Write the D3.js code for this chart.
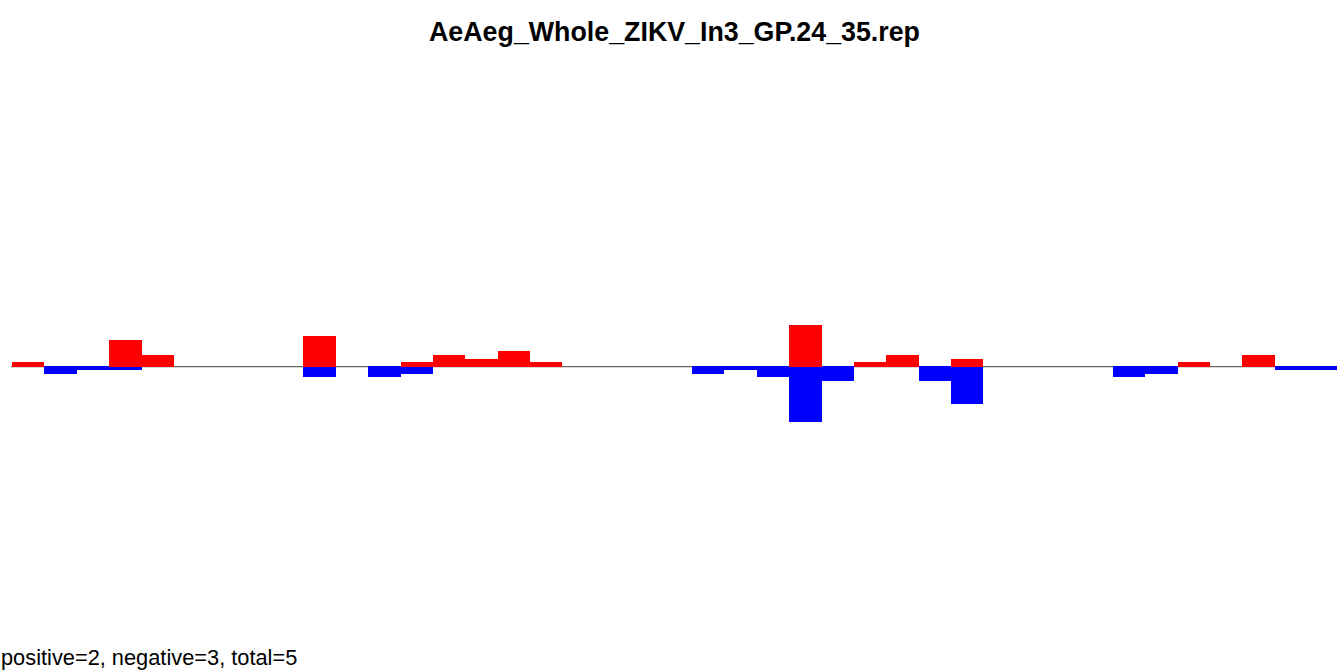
<!DOCTYPE html>
<html>
<head>
<meta charset="utf-8">
<script src="https://cdn.jsdelivr.net/npm/d3@7"></script>
<style>
html,body{margin:0;padding:0;background:#fff;}
svg{display:block;}
</style>
</head>
<body>
<svg id="chart" width="1337" height="671"></svg>
<script>
const title = "AeAeg_Whole_ZIKV_In3_GP.24_35.rep";
const footer = "positive=2, negative=3, total=5";
const slots = d3.range(41).map(String);
// positive (red) values per slot
const posValues = [1,0,0,7,3,0,0,0,0,8,0,0,1,3,2,4,1,0,0,0,0,0,0,0,11,0,1,3,0,2,0,0,0,0,0,0,1,0,3,0,0];
// negative (blue) values per slot
const negValues = [0,-2,-1,-1,0,0,0,0,0,-3,0,-3,-2,0,0,0,0,0,0,0,0,-2,-1,-3,-15,-4,0,0,-4,-10,0,0,0,0,-3,-2,0,0,0,-1,-1];

const W = 1337, H = 671;
const svg = d3.select("#chart");

const x = d3.scaleBand().domain(slots).range([12, 1339.6]).padding(0);
const y = d3.scaleLinear().domain([-80, 80]).range([666, 66]);

// baseline
svg.append("line").attr("x1", 11).attr("x2", W).attr("y1", y(0)+1.5).attr("y2", y(0)+1.5)
  .attr("stroke", "#d8d8d8").attr("stroke-width", 1);
svg.append("line").attr("x1", 11).attr("x2", W).attr("y1", y(0)+0.5).attr("y2", y(0)+0.5)
  .attr("stroke", "#666666").attr("stroke-width", 1);

svg.append("g").attr("shape-rendering", "crispEdges").selectAll("rect")
  .data(slots.filter((s,i)=>negValues[i]!==0)).join("rect")
  .attr("x", d => x(d)).attr("width", x.bandwidth())
  .attr("y", y(0)).attr("height", d => y(negValues[+d]) - y(0))
  .attr("fill", "#0000ff");

svg.append("g").attr("shape-rendering", "crispEdges").selectAll("rect")
  .data(slots.filter((s,i)=>posValues[i]!==0)).join("rect")
  .attr("x", d => x(d)).attr("width", x.bandwidth())
  .attr("y", d => y(posValues[+d])).attr("height", d => y(0) + 1 - y(posValues[+d]))
  .attr("fill", "#ff0000");

svg.append("text").attr("x", (12+1337)/2).attr("y", 41).attr("text-anchor", "middle")
  .attr("font-family", "Liberation Sans, Arial, Helvetica, sans-serif")
  .attr("font-weight", "bold").attr("font-size", 26.8).attr("fill", "#000").text(title);

svg.append("text").attr("x", 1).attr("y", 665)
  .attr("font-family", "Liberation Sans, Arial, Helvetica, sans-serif")
  .attr("font-size", 21.8).attr("fill", "#000").text(footer);
</script>
</body>
</html>
